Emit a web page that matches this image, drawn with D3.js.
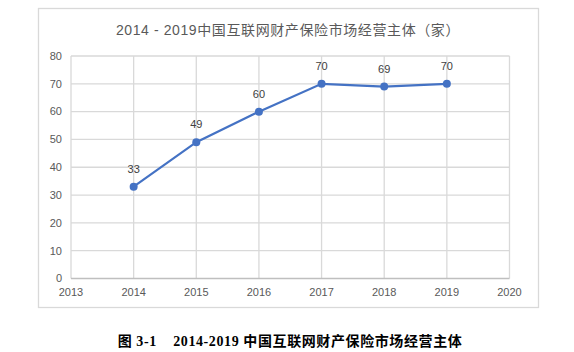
<!DOCTYPE html>
<html><head><meta charset="utf-8">
<script src="https://cdn.jsdelivr.net/npm/d3@7"></script>
<style>body{margin:0;background:#fff}svg{display:block}</style>
</head><body>
<svg id="c" width="574" height="352"></svg>
<script>
const years = [2014, 2015, 2016, 2017, 2018, 2019];
const counts = [33, 49, 60, 70, 69, 70];
const xTicks = [2013, 2014, 2015, 2016, 2017, 2018, 2019, 2020];
const yTicks = [0, 10, 20, 30, 40, 50, 60, 70, 80];
const title = "2014 - 2019中国互联网财产保险市场经营主体（家）";
const caption = "图 3-1    2014-2019 中国互联网财产保险市场经营主体";

const svg = d3.select("#c");
const font = "'Liberation Sans','Noto Sans CJK SC',sans-serif";

// outer frame
svg.append("rect").attr("x", 38.5).attr("y", 8.5).attr("width", 500).attr("height", 299)
  .attr("fill", "#fff").attr("stroke", "#d9d9d9").attr("stroke-width", 1.3);

const x = d3.scaleLinear().domain([2013, 2020]).range([71, 509.5]);
const y = d3.scaleLinear().domain([0, 80]).range([278.5, 56]);

// horizontal grid
svg.append("g").selectAll("line").data(yTicks.filter(d => d > 0)).join("line")
  .attr("x1", x(2013)).attr("x2", x(2020))
  .attr("y1", d => y(d)).attr("y2", d => y(d))
  .attr("stroke", "#d9d9d9").attr("stroke-width", 1.3);
// vertical grid
svg.append("g").selectAll("line").data(xTicks).join("line")
  .attr("x1", d => x(d)).attr("x2", d => x(d))
  .attr("y1", y(80)).attr("y2", y(0))
  .attr("stroke", "#d9d9d9").attr("stroke-width", 1.3);
// x axis line
svg.append("line").attr("x1", x(2013)).attr("x2", x(2020)).attr("y1", y(0)).attr("y2", y(0))
  .attr("stroke", "#bfbfbf").attr("stroke-width", 1.5);

// y tick labels
svg.append("g").selectAll("text").data(yTicks).join("text")
  .attr("x", 62).attr("y", d => y(d)).attr("dy", "0.35em")
  .attr("text-anchor", "end").attr("font-family", font).attr("font-size", 11)
  .attr("fill", "#595959").text(d => d);
// x tick labels
svg.append("g").selectAll("text").data(xTicks).join("text")
  .attr("x", d => x(d)).attr("y", 296)
  .attr("text-anchor", "middle").attr("font-family", font).attr("font-size", 11)
  .attr("fill", "#595959").text(d => d);

const pts = years.map((yr, i) => ({yr, v: counts[i]}));
svg.append("path").datum(pts)
  .attr("d", d3.line().x(d => x(d.yr)).y(d => y(d.v)))
  .attr("fill", "none").attr("stroke", "#4472c4").attr("stroke-width", 2.2);
svg.append("g").selectAll("circle").data(pts).join("circle")
  .attr("cx", d => x(d.yr)).attr("cy", d => y(d.v)).attr("r", 4)
  .attr("fill", "#4472c4");
svg.append("g").selectAll("text").data(pts).join("text")
  .attr("x", d => x(d.yr)).attr("y", d => y(d.v) - 14)
  .attr("text-anchor", "middle").attr("font-family", font).attr("font-size", 11)
  .attr("fill", "#404040").text(d => d.v);

svg.append("text").attr("x", 288).attr("y", 35).attr("text-anchor", "middle")
  .attr("font-family", font).attr("font-size", 14).attr("letter-spacing", 0.6)
  .attr("fill", "#595959").style("white-space", "pre").text(title);

svg.append("text").attr("x", 290).attr("y", 346).attr("text-anchor", "middle")
  .attr("font-family", "'Liberation Serif','Noto Sans CJK SC',serif").attr("font-size", 14)
  .attr("letter-spacing", 0.6)
  .attr("font-weight", "bold").attr("fill", "#000")
  .style("white-space", "pre").text(caption);
</script>
</body></html>
